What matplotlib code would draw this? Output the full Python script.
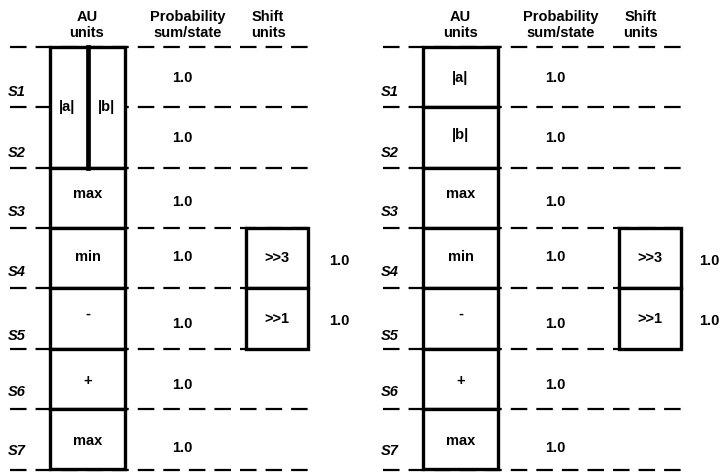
import matplotlib.pyplot as plt
from matplotlib.patches import Rectangle

plt.rcParams["font.family"] = ["Liberation Sans", "DejaVu Sans"]
plt.rcParams["lines.scale_dashes"] = False

# data
states = ["S1", "S2", "S3", "S4", "S5", "S6", "S7"]
au_labels = ["|a|", "|b|", "max", "min", "-", "+", "max"]
prob_sum = [1.0, 1.0, 1.0, 1.0, 1.0, 1.0, 1.0]
shift_labels = [">>3", ">>1"]
shift_rows = [3, 4]
shift_prob = [1.0, 1.0]
headers = ["AU\nunits", "Probability\nsum/state", "Shift\nunits"]

# layout (pixels, y down)
top, row_h = 46.7, 60.4
prob_dy = [31, 30.5, 35, 29.5, 36, 36, 39]
au_dy = [31, 28, 27, 29.5, 25.5, 32, 31.7]
s_dy = [45.5, 46, 45, 44, 47.5, 43.5, 42]
fs = 10.5
box_lw = 2.4
dash = (0, (11.9, 6.5))

fig = plt.figure(figsize=(7.24, 4.72), dpi=100)
ax = fig.add_axes([0, 0, 1, 1])
ax.set_xlim(0, 724)
ax.set_ylim(472, 0)
ax.axis("off")


def panel(x0, split_first, val_dx):
    # x0 = left end of dashed lines
    bx0, bx1 = x0 + 40, x0 + 115
    sx0, sx1 = x0 + 236, x0 + 298
    # dashed state lines
    for i in range(len(states) + 1):
        y = top + i * row_h
        ax.plot([x0, x0 + 298], [y, y], color="black", lw=1.6,
                linestyle=dash, zorder=1)
    # headers
    for hx, h in zip([x0 + 77, x0 + 178, x0 + 258], headers):
        ax.text(hx, 25, h, ha="center", va="center", fontsize=fs,
                fontweight="bold", linespacing=1.25)
    # AU cells
    for i, lab in enumerate(au_labels):
        y = top + i * row_h
        if split_first and i < 2:
            if i == 0:
                ax.add_patch(Rectangle((bx0, y), bx1 - bx0, 2 * row_h,
                                       facecolor="white", edgecolor="black",
                                       lw=box_lw, zorder=2))
                xm = (bx0 + bx1) / 2
                ax.plot([xm, xm], [y, y + 2 * row_h], color="black",
                        lw=box_lw + 1, zorder=3)
                ax.text((bx0 + xm) / 2 - 2, top + row_h, au_labels[0],
                        ha="center", va="center", fontsize=fs,
                        fontweight="bold", zorder=4)
                ax.text((xm + bx1) / 2, top + row_h, au_labels[1],
                        ha="center", va="center", fontsize=fs,
                        fontweight="bold", zorder=4)
            continue
        ax.add_patch(Rectangle((bx0, y), bx1 - bx0, row_h,
                               facecolor="white", edgecolor="black",
                               lw=box_lw, zorder=2))
        ax.text((bx0 + bx1) / 2, y + au_dy[i], lab, ha="center",
                va="center", fontsize=fs, fontweight="bold", zorder=4)
    # state labels and probabilities
    for i, s in enumerate(states):
        y = top + i * row_h
        ax.text(x0 - 2, y + s_dy[i], s, ha="left", va="center",
                fontsize=fs, fontweight="bold", style="italic")
        ax.text(x0 + 172, y + prob_dy[i], f"{prob_sum[i]:.1f}",
                ha="center", va="center", fontsize=fs, fontweight="bold")
    # shift units
    for r, lab, p in zip(shift_rows, shift_labels, shift_prob):
        y = top + r * row_h
        ax.add_patch(Rectangle((sx0, y), sx1 - sx0, row_h,
                               facecolor="white", edgecolor="black",
                               lw=box_lw, zorder=2))
        ax.text((sx0 + sx1) / 2, y + 30.5, lab, ha="center", va="center",
                fontsize=fs, fontweight="bold", zorder=4)
        ax.text(sx1 + val_dx, y + 33, f"{p:.1f}", ha="center", va="center",
                fontsize=fs, fontweight="bold")


panel(10, True, 31)
panel(383, False, 28)

fig.savefig("out.png", dpi=100)
